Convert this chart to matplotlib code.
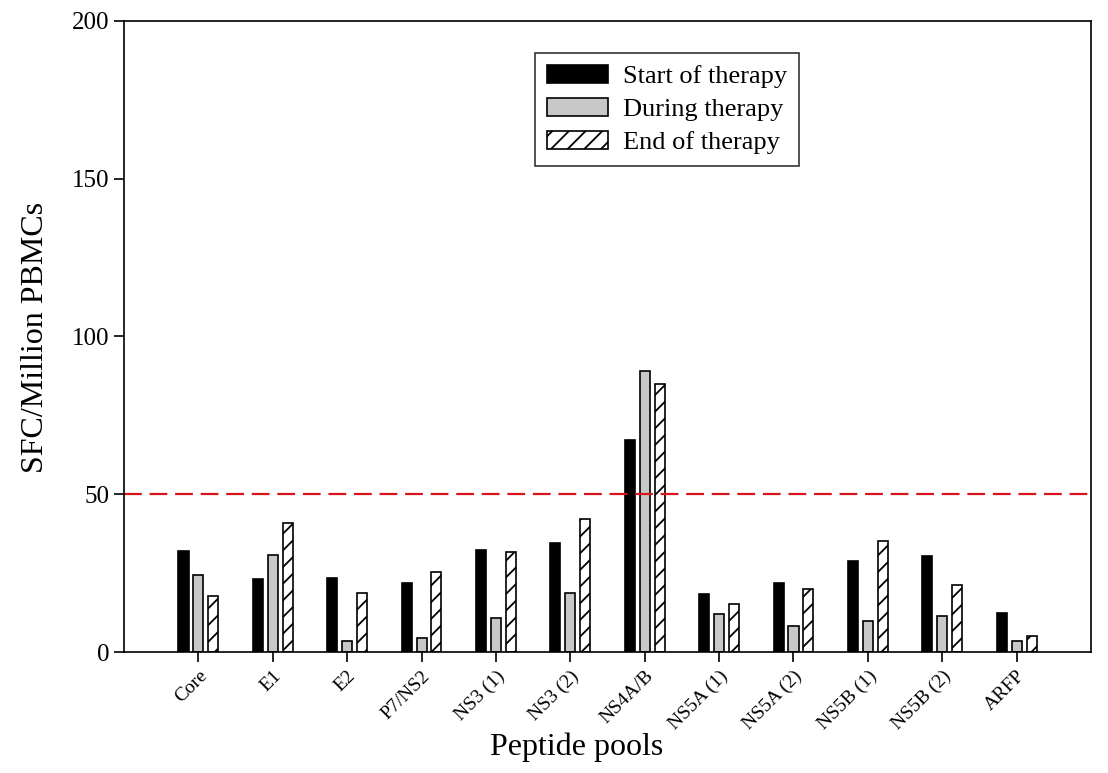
import numpy as np
import matplotlib
matplotlib.use("Agg")
import matplotlib.pyplot as plt

plt.rcParams['font.family'] = ['Liberation Serif', 'DejaVu Serif']
plt.rcParams['hatch.linewidth'] = 1.3

pools = ['Core', 'E1', 'E2', 'P7/NS2', 'NS3 (1)', 'NS3 (2)', 'NS4A/B',
         'NS5A (1)', 'NS5A (2)', 'NS5B (1)', 'NS5B (2)', 'ARFP']
start = [32.1, 23.0, 23.5, 21.9, 32.4, 34.7, 67.2, 18.4, 22.0, 29.0, 30.4, 12.4]
during = [24.5, 30.6, 3.5, 4.4, 10.7, 18.6, 89.1, 12.2, 8.3, 9.7, 11.3, 3.5]
end = [17.8, 41.0, 18.6, 25.5, 31.6, 42.1, 85.0, 15.1, 20.1, 35.3, 21.3, 5.1]
threshold = 50

fig = plt.figure(figsize=(11.08, 7.73), dpi=100)
ax = fig.add_axes([0.1119, 0.1565, 0.8728, 0.8165])

x = np.arange(1, len(pools) + 1)
w = 0.135
ax.bar(x - 0.2, start, w, color='black', edgecolor='black', linewidth=1.2,
       label='Start of therapy')
ax.bar(x, during, w, color='#c8c8c8', edgecolor='black', linewidth=1.2,
       label='During therapy')
ax.bar(x + 0.2, end, w, color='white', edgecolor='black', linewidth=1.2,
       hatch='//', label='End of therapy')

ax.axhline(threshold, color='#d9141c', linewidth=1.6, dashes=(8, 3.5))

ax.set_xlim(0, 13)
ax.set_ylim(0, 200)
ax.set_yticks([0, 50, 100, 150, 200])
ax.set_xticks(x)
ax.set_xticklabels(pools, rotation=45, ha='right', rotation_mode='anchor',
                   fontsize=14)
ax.tick_params(axis='y', labelsize=18, direction='out', length=7, width=1.2)
ax.tick_params(axis='x', direction='out', length=7, width=1.2, pad=4)
for s in ax.spines.values():
    s.set_linewidth(1.2)

ax.set_ylabel('SFC/Million PBMCs', fontsize=23)
ax.yaxis.set_label_coords(-0.0765, 0.499)
ax.set_xlabel('Peptide pools', fontsize=23)
ax.xaxis.set_label_coords(0.468, -0.128)

leg = ax.legend(loc='upper left', bbox_to_anchor=(0.425, 0.949), fontsize=19,
                frameon=True, fancybox=False, edgecolor='black',
                handlelength=2.3, handleheight=0.7, labelspacing=0.36,
                borderpad=0.45, handletextpad=0.6, borderaxespad=0)
leg.get_frame().set_linewidth(1.2)

fig.savefig('out.png', dpi=100)
